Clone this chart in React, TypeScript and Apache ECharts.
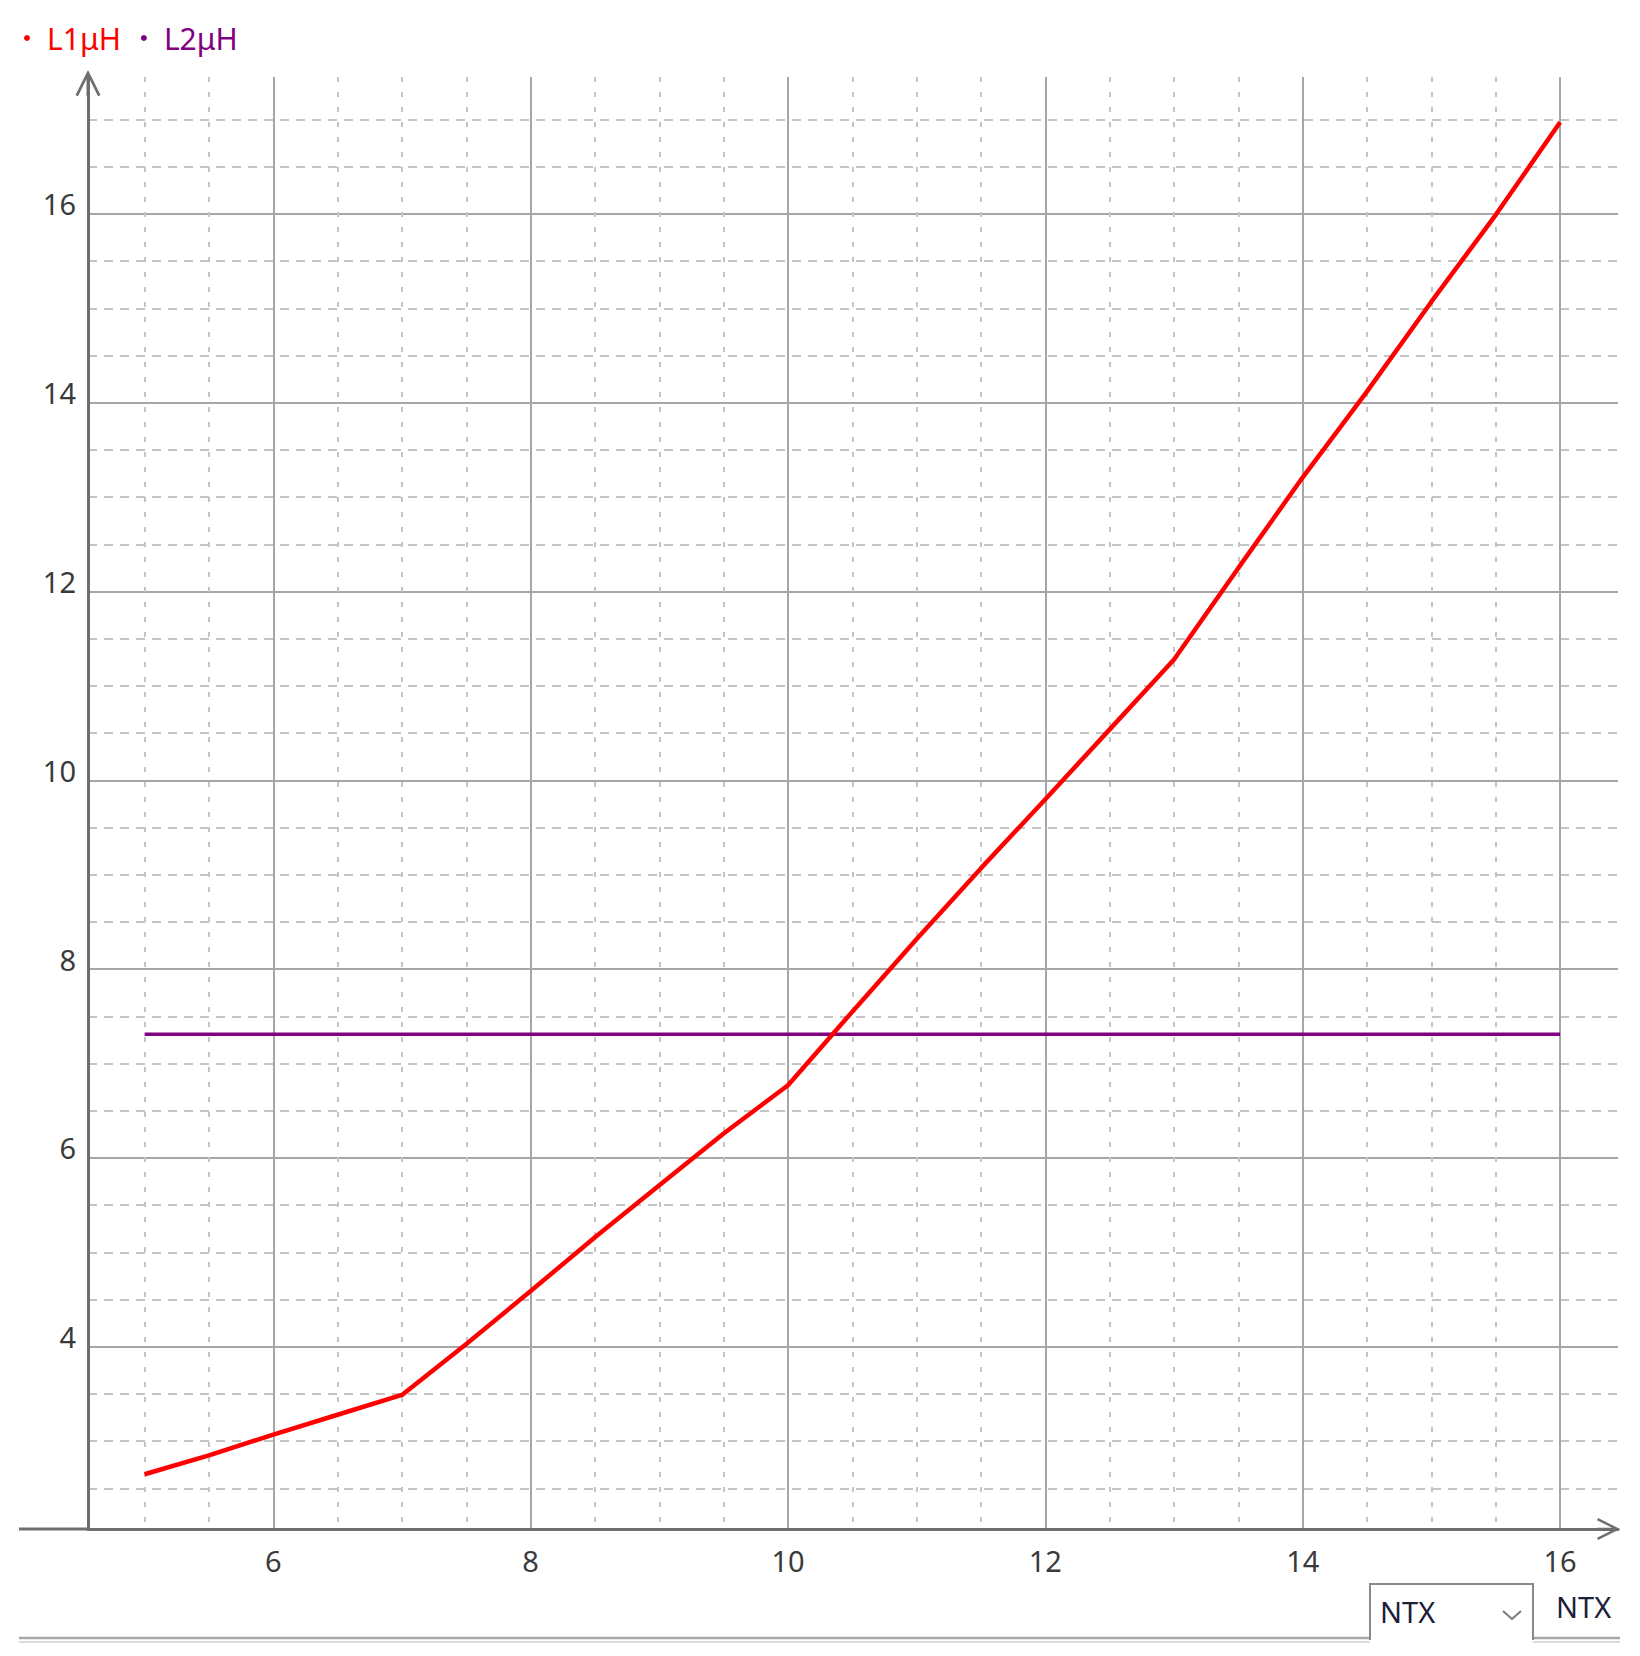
import React, { useEffect, useRef } from "react";
import * as echarts from "echarts";

// ---- data ----
const seriesNames = ["L1μH", "L2μH"];
const xValues = [5, 5.5, 6, 6.5, 7, 7.5, 8, 8.5, 9, 9.5, 10, 10.5, 11, 11.5, 12, 12.5, 13, 13.5, 14, 14.5, 15, 15.5, 16];
const l1Values = [2.65, 2.85, 3.07, 3.28, 3.49, 4.03, 4.59, 5.16, 5.71, 6.26, 6.77, 7.55, 8.32, 9.07, 9.8, 10.54, 11.28, 12.25, 13.21, 14.12, 15.07, 15.99, 16.97];
const l2X = [5, 16];
const l2Values = [7.31, 7.31];
const xAxisRange = [4.56, 16.45];
const yAxisRange = [2.07, 17.45];
const tabLabels = ["NTX", "NTX"];

const RED = "#ff0000";
const PURPLE = "#800080";
const AXIS = "#6e6e6e";
const MAJOR = "#a6a6a6";
const MINOR = "#c4c4c4";
const FONT = "'Noto Sans', 'DejaVu Sans', sans-serif";
const ARROW = "path://M5 0 L10 10 L9 10.5 L5.6 3.6 L5.6 10.5 L4.4 10.5 L4.4 3.6 L1 10.5 L0 10 Z";

export default function App() {
  const ref = useRef<HTMLDivElement>(null);
  useEffect(() => {
    if (!ref.current) return;
    const chart = echarts.init(ref.current, undefined, { renderer: "svg" });
    const l1Data = xValues.map((x, i) => [x, l1Values[i]]);
    const l2Data = l2X.map((x, i) => [x, l2Values[i]]);
    chart.setOption({
      animation: false,
      backgroundColor: "#ffffff",
      textStyle: { fontFamily: FONT },
      legend: {
        left: 24,
        top: 23,
        padding: 0,
        icon: "circle",
        itemWidth: 30,
        itemHeight: 6,
        itemGap: 20,
        textStyle: { fontSize: 30, fontFamily: FONT },
        data: [
          { name: seriesNames[0], textStyle: { color: RED } },
          { name: seriesNames[1], textStyle: { color: PURPLE } },
        ],
      },
      grid: { left: 88, right: 22, top: 77, bottom: 127, containLabel: false },
      xAxis: {
        type: "value",
        min: xAxisRange[0],
        max: xAxisRange[1],
        minInterval: 2,
        maxInterval: 2,
        splitNumber: 6,
        axisLine: {
          show: true,
          onZero: false,
          lineStyle: { color: AXIS, width: 3 },
          symbol: ["none", ARROW],
          symbolSize: [22, 23],
          symbolOffset: [0, -9.5],
        },
        axisTick: { show: false },
        axisLabel: {
          show: true,
          showMinLabel: false,
          showMaxLabel: false,
          fontSize: 29,
          color: "#3a3a3a",
          margin: 17,
          fontFamily: FONT,
        },
        splitLine: { show: true, showMaxLine: false, lineStyle: { color: MAJOR, width: 2, type: "solid" } },
        minorTick: { show: false, splitNumber: 4 },
        minorSplitLine: { show: true, lineStyle: { color: MINOR, width: 2, type: [5, 10] } },
      },
      yAxis: {
        type: "value",
        min: yAxisRange[0],
        max: yAxisRange[1],
        minInterval: 2,
        maxInterval: 2,
        splitNumber: 8,
        axisLine: {
          show: true,
          onZero: false,
          lineStyle: { color: AXIS, width: 3 },
          symbol: ["none", ARROW],
          symbolSize: [25, 28],
          symbolOffset: [0, -6],
        },
        axisTick: { show: false },
        axisLabel: {
          show: true,
          showMinLabel: false,
          showMaxLabel: false,
          fontSize: 29,
          color: "#3a3a3a",
          margin: 12,
          verticalAlign: "bottom",
          lineHeight: 20,
          fontFamily: FONT,
        },
        splitLine: { show: true, showMaxLine: false, lineStyle: { color: MAJOR, width: 2, type: "solid" } },
        minorTick: { show: false, splitNumber: 4 },
        minorSplitLine: { show: true, lineStyle: { color: MINOR, width: 2, type: [9, 7] } },
      },
      series: [
        {
          name: seriesNames[1],
          type: "line",
          data: l2Data,
          showSymbol: false,
          color: PURPLE,
          lineStyle: { color: PURPLE, width: 3.5 },
          z: 3,
        },
        {
          name: seriesNames[0],
          type: "line",
          data: l1Data,
          showSymbol: false,
          color: RED,
          lineStyle: { color: RED, width: 4.5 },
          z: 4,
        },
      ],
      graphic: [
        { type: "line", shape: { x1: 19, y1: 1529, x2: 88, y2: 1529 }, style: { stroke: AXIS, lineWidth: 3 }, silent: true },
        { type: "line", shape: { x1: 19, y1: 1638, x2: 1370, y2: 1638 }, style: { stroke: "#a8a8a8", lineWidth: 2.5 }, silent: true },
        { type: "line", shape: { x1: 19, y1: 1642, x2: 1370, y2: 1642 }, style: { stroke: "#dcdcdc", lineWidth: 2 }, silent: true },
        { type: "line", shape: { x1: 1533, y1: 1638, x2: 1620, y2: 1638 }, style: { stroke: "#a8a8a8", lineWidth: 2.5 }, silent: true },
        { type: "line", shape: { x1: 1533, y1: 1642, x2: 1620, y2: 1642 }, style: { stroke: "#dcdcdc", lineWidth: 2 }, silent: true },
        {
          type: "polyline",
          shape: { points: [[1370, 1640], [1370, 1584], [1533, 1584], [1533, 1640]] },
          style: { stroke: "#8a8a8a", lineWidth: 2, fill: null },
          silent: true,
        },
        {
          type: "polyline",
          shape: { points: [[1503, 1611], [1512, 1619], [1521, 1611]] },
          style: { stroke: "#7a7a7a", lineWidth: 2, fill: null },
          silent: true,
        },
        {
          type: "text",
          x: 1380,
          y: 1611,
          style: { text: tabLabels[0], fontSize: 29, fontFamily: FONT, fill: "#1e1e3a", verticalAlign: "middle", align: "left" },
          silent: true,
        },
        {
          type: "text",
          x: 1556,
          y: 1606,
          style: { text: tabLabels[1], fontSize: 29, fontFamily: FONT, fill: "#1e1e3a", verticalAlign: "middle", align: "left" },
          silent: true,
        },
      ],
    });
    return () => chart.dispose();
  }, []);
  return (
    <div
      ref={ref}
      style={{ position: "fixed", left: 0, top: 0, width: 1640, height: 1656, background: "#ffffff" }}
    />
  );
}
